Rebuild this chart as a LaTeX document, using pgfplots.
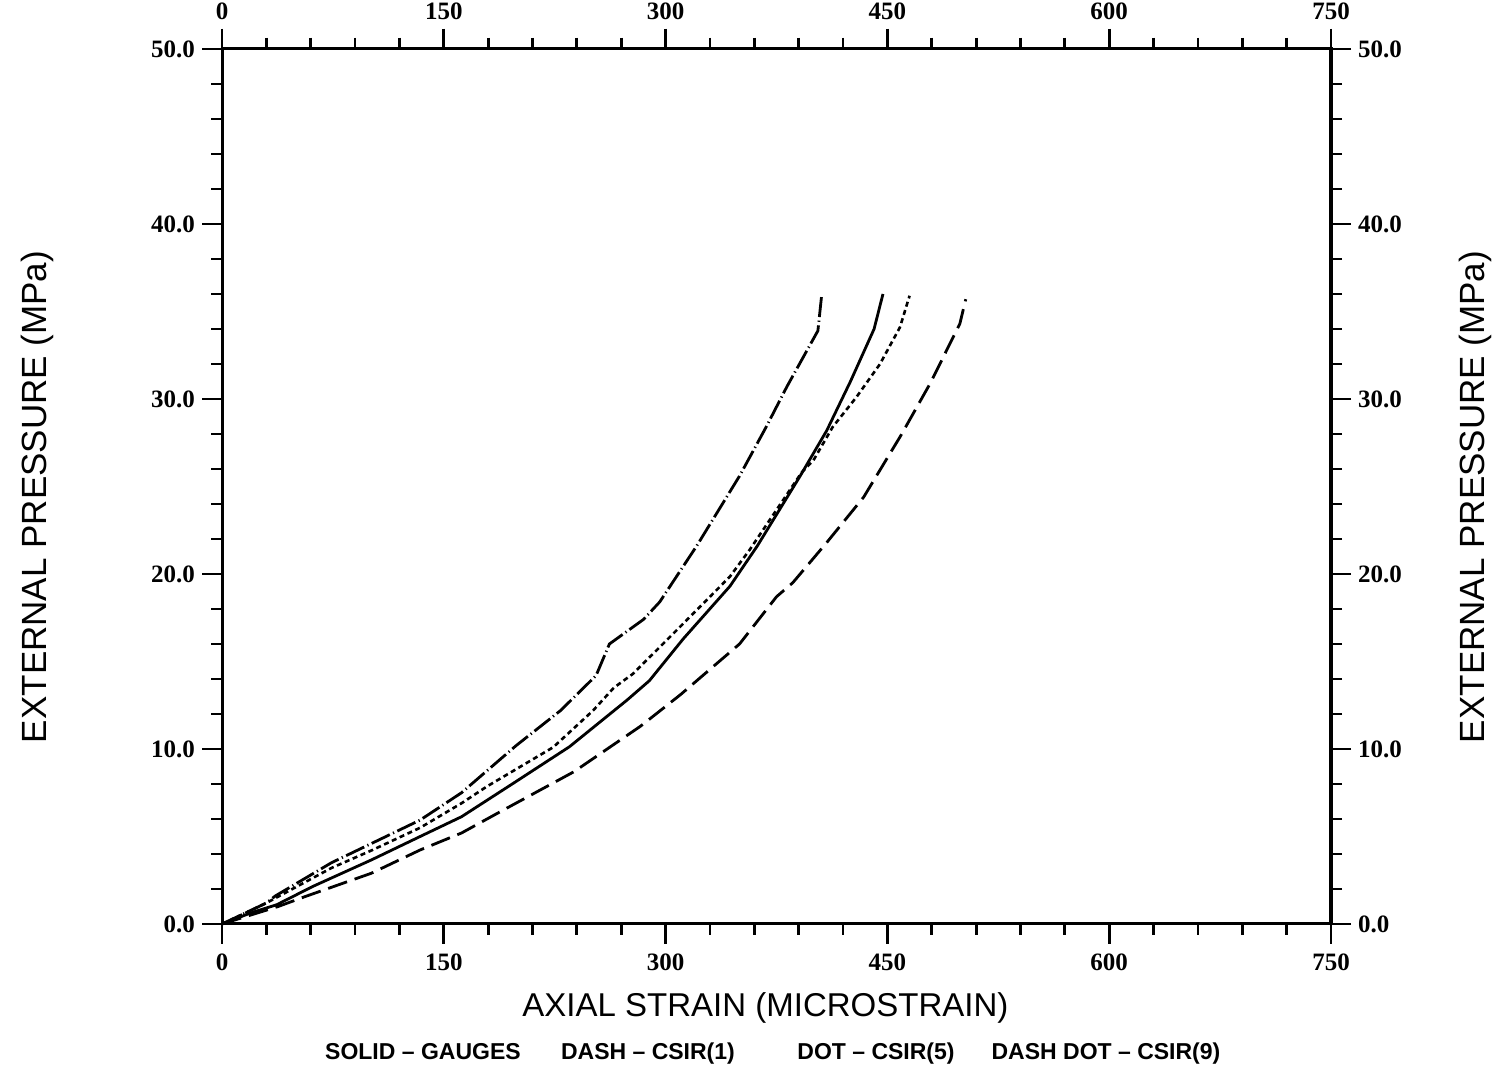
\documentclass[border=0pt]{standalone}
\usepackage{fontspec}
\setmainfont{Liberation Serif}
\setsansfont{Liberation Sans}
\usepackage{pgfplots}
\pgfplotsset{compat=1.18}
\begin{document}
\begin{tikzpicture}
\pgfplotsset{
  common/.style={
    scale only axis, width=554.5pt, height=437.5pt,
    xmin=0, xmax=750, ymin=0, ymax=50,
    xtick={0,150,...,750}, minor x tick num=4,
    ytick={0,10,...,50}, minor y tick num=4,
    tick align=outside,
    major tick length=10pt, minor tick length=5.5pt,
    every tick/.style={line width=1.4pt, black},
    axis line style={line width=1.5pt},
    /pgf/number format/assume math mode=true,
    tick label style={font=\bfseries\fontsize{12.5}{14}\selectfont},
    yticklabel={\pgfmathprintnumber[fixed,fixed zerofill,precision=1]{\tick}},
    xticklabel={\pgfmathprintnumber[int detect]{\tick}},
  }
}
\begin{axis}[common, clip=false, xticklabel style={yshift=-1.5pt}]
\addplot[black, line width=1.4pt] coordinates {
(0,0) (20,0.65) (37,1.1) (61,2.13) (101,3.66) (134,5.0) (162,6.13) (197,8.04) (235,10.13) (274,12.8) (289,13.9) (312,16.3) (343.5,19.3) (362,21.6) (391,25.6) (409,28.2) (425,31.0) (441,34.0) (447,36.0)
};
\addplot[black, line width=1.4pt, dash pattern=on 10pt off 4pt] coordinates {
(0,0) (38,1.0) (56,1.56) (101,2.9) (134,4.23) (162,5.2) (190,6.5) (238,8.7) (283,11.3) (310,13.1) (350,16.0) (375,18.7) (386,19.5) (409,21.8) (434,24.4) (459,27.9) (479,30.9) (499,34.3) (503,35.7)
};
\addplot[black, line width=1.3pt, dash pattern=on 2.5pt off 1.8pt] coordinates {
(0,0) (30,1.2) (74,3.2) (101,4.2) (134,5.5) (162,6.9) (179,7.85) (224,10.1) (251,12.2) (265,13.5) (278,14.3) (310,17.0) (343.5,19.85) (357,21.4) (392,25.8) (400,26.5) (413,28.4) (429,30.1) (445,32.0) (458.5,34.1) (465,35.9)
};
\addplot[black, line width=1.4pt, dash pattern=on 10pt off 1.8pt on 0.6pt off 1.8pt] coordinates {
(0,0) (30,1.2) (36,1.6) (74,3.5) (106,4.8) (134,5.94) (162,7.5) (168,7.94) (199,10.2) (229,12.2) (253,14.2) (262,16.0) (285,17.4) (296,18.4) (321,21.6) (350,25.6) (368,28.4) (382,30.7) (403,33.9) (405.5,35.9)
};
\node[font=\sffamily\fontsize{16.5}{19}\selectfont] at (rel axis cs:0.49,-0.096) {AXIAL STRAIN (MICROSTRAIN)};
\node[font=\sffamily\fontsize{17.5}{20}\selectfont, rotate=90] at (rel axis cs:-0.1668,0.488) {EXTERNAL PRESSURE (MPa)};
\node[font=\sffamily\fontsize{17.5}{20}\selectfont, rotate=90] at (rel axis cs:1.1298,0.488) {EXTERNAL PRESSURE (MPa)};
\node[anchor=base, font=\sffamily\bfseries\fontsize{11.5}{13}\selectfont] at (rel axis cs:0.1812,-0.1554) {SOLID -- GAUGES};
\node[anchor=base, font=\sffamily\bfseries\fontsize{11.5}{13}\selectfont] at (rel axis cs:0.3841,-0.1554) {DASH -- CSIR(1)};
\node[anchor=base, font=\sffamily\bfseries\fontsize{11.5}{13}\selectfont] at (rel axis cs:0.5897,-0.1554) {DOT -- CSIR(5)};
\node[anchor=base, font=\sffamily\bfseries\fontsize{11.5}{13}\selectfont] at (rel axis cs:0.7971,-0.1554) {DASH DOT -- CSIR(9)};
\coordinate (bl) at (rel axis cs:-0.2002,-0.1657);
\coordinate (tr) at (rel axis cs:1.1569,1.056);
\end{axis}
\begin{axis}[common, xticklabel pos=upper, yticklabel pos=right, xticklabel style={yshift=1pt}]
\end{axis}
\pgfresetboundingbox
\path[use as bounding box] (bl) rectangle (tr);
\end{tikzpicture}
\end{document}
